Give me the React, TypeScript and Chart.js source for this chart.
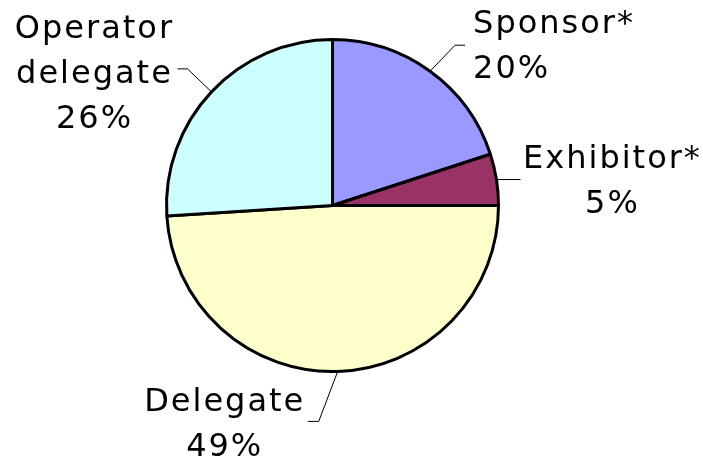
import React, { useEffect, useRef } from "react";
import { Chart, registerables } from "chart.js";

Chart.register(...registerables);

const categories = ["Sponsor*", "Exhibitor*", "Delegate", "Operator delegate"];
const percentages = [20, 5, 49, 26];
const sliceColors = ["#9999FF", "#993366", "#FFFFCC", "#CCFFFF"];

// label text lines per slice
const labelLines = [
  ["Sponsor*", "20%"],
  ["Exhibitor*", "5%"],
  ["Delegate", "49%"],
  ["Operator", "delegate", "26%"],
];

// leader-line / label layout relative to the slice's mid-angle point on the rim
const labelLayout = [
  { ex: 25, ey: -26, hx: 10, tx: 43, ty: -38, align: "left" },
  { ex: 0, ey: 0, hx: 24, tx: 116, ty: -12, align: "center" },
  { ex: -19, ey: 50, hx: -11, tx: -113, ty: 40, align: "center" },
  { ex: -24, ey: -23, hx: -10, tx: -117, ty: -54, align: "center" },
];

const LINE_H = 45;

const labelPlugin = {
  id: "outsideLabels",
  afterDatasetsDraw(chart: any) {
    const ctx = chart.ctx;
    const meta = chart.getDatasetMeta(0);
    ctx.save();
    meta.data.forEach((arc: any, i: number) => {
      const { x, y, startAngle, endAngle, outerRadius } = arc.getProps(
        ["x", "y", "startAngle", "endAngle", "outerRadius"],
        true
      );
      const mid = (startAngle + endAngle) / 2;
      const px = x + Math.cos(mid) * outerRadius;
      const py = y + Math.sin(mid) * outerRadius;
      const L = labelLayout[i];
      const exx = px + L.ex;
      const eyy = py + L.ey;
      ctx.beginPath();
      ctx.strokeStyle = "#000";
      ctx.lineWidth = 1;
      ctx.moveTo(px, py);
      ctx.lineTo(exx, eyy);
      ctx.lineTo(exx + L.hx, eyy);
      ctx.stroke();

      ctx.fillStyle = "#000";
      ctx.font = '32px "DejaVu Sans"';
      try {
        (ctx as any).letterSpacing = "2px";
      } catch (e) {}
      ctx.textBaseline = "alphabetic";
      ctx.textAlign = L.align as CanvasTextAlign;
      labelLines[i].forEach((line, k) => {
        ctx.fillText(line, px + L.tx, py + L.ty + k * LINE_H);
      });
    });
    ctx.restore();
  },
};

export default function App() {
  const ref = useRef<HTMLCanvasElement>(null);
  useEffect(() => {
    if (!ref.current) return;
    const chart = new Chart(ref.current, {
      type: "pie",
      data: {
        labels: categories,
        datasets: [
          {
            data: percentages,
            backgroundColor: sliceColors,
            borderColor: "#000",
            borderWidth: 3,
          },
        ],
      },
      options: {
        responsive: false,
        animation: false,
        layout: { padding: { left: 165, right: 203, top: 38, bottom: 89 } },
        plugins: {
          legend: { display: false },
          tooltip: { enabled: false },
        },
      },
      plugins: [labelPlugin],
    });
    return () => chart.destroy();
  }, []);
  return (
    <div style={{ position: "fixed", left: 0, top: 0, width: 703, height: 462, background: "#fff" }}>
      <canvas ref={ref} width={703} height={462} />
    </div>
  );
}
